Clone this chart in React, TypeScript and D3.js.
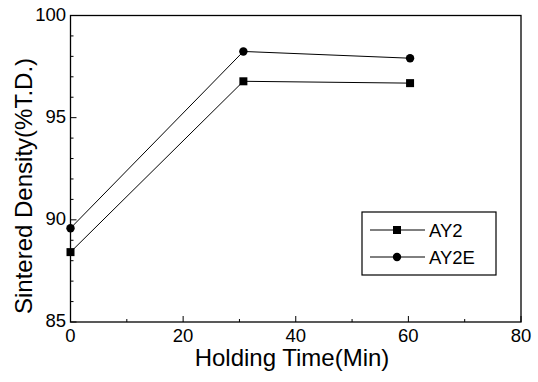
import React from "react";
import * as d3 from "d3";

const holdingTime = [0, 30.7, 60.3];
const ay2 = [88.42, 96.78, 96.69];
const ay2e = [89.59, 98.24, 97.91];
const seriesNames = ["AY2", "AY2E"];
const xMajorTicks = [0, 20, 40, 60, 80];
const yMajorTicks = [85, 90, 95, 100];

const W = 538;
const H = 382;
const L = 70.5, R = 521, T = 15.5, B = 322;
const FONT = "'Liberation Sans', Arial, sans-serif";

export default function App() {
  const x = d3.scaleLinear().domain([0, 80]).range([L, R]);
  const y = d3.scaleLinear().domain([85, 100]).range([B, T]);
  const line = d3
    .line<[number, number]>()
    .x((d) => x(d[0]))
    .y((d) => y(d[1]));
  const d1: [number, number][] = holdingTime.map((t, i) => [t, ay2[i]]);
  const d2: [number, number][] = holdingTime.map((t, i) => [t, ay2e[i]]);
  const xMinor = d3.range(0, 81, 10);
  const yMinor = d3.range(85, 100.01, 1);

  const legX = 362, legY = 212, legW = 134, legH = 63;
  const rowY = [230, 257];

  return (
    <svg
      width={W}
      height={H}
      style={{ position: "absolute", left: 0, top: 0, background: "#fff" }}
      fontFamily={FONT}
    >
      <rect x={0} y={0} width={W} height={H} fill="#fff" />
      {/* frame */}
      <rect x={L} y={T} width={R - L} height={B - T} fill="none" stroke="#000" strokeWidth={1.3} />
      {/* x ticks */}
      {xMinor.map((v) => (
        <line
          key={"xm" + v}
          x1={x(v)}
          x2={x(v)}
          y1={B}
          y2={B - (v % 20 === 0 ? 6 : 3)}
          stroke="#000"
          strokeWidth={1}
        />
      ))}
      {yMinor.map((v) => (
        <line
          key={"ym" + v}
          x1={L}
          x2={L + (Math.round(v) % 5 === 0 ? 6 : 3)}
          y1={y(v)}
          y2={y(v)}
          stroke="#000"
          strokeWidth={1}
        />
      ))}
      {xMajorTicks.map((v) => (
        <text key={"xt" + v} x={x(v)} y={342} textAnchor="middle" fontSize={18.5} fill="#000">
          {v}
        </text>
      ))}
      {yMajorTicks.map((v) => (
        <text key={"yt" + v} x={66} y={y(v) + 5} textAnchor="end" fontSize={18.5} fill="#000">
          {v}
        </text>
      ))}
      <text x={292} y={366} textAnchor="middle" fontSize={24} fill="#000">
        Holding Time(Min)
      </text>
      <text
        transform={`translate(32,186) rotate(-90)`}
        textAnchor="middle"
        fontSize={24}
        fill="#000"
      >
        Sintered Density(%T.D.)
      </text>
      {/* series */}
      <path d={line(d1) || ""} fill="none" stroke="#000" strokeWidth={1} />
      <path d={line(d2) || ""} fill="none" stroke="#000" strokeWidth={1} />
      {d1.map((p, i) => (
        <rect key={"s" + i} x={x(p[0]) - 4} y={y(p[1]) - 4} width={8} height={8} fill="#000" />
      ))}
      {d2.map((p, i) => (
        <circle key={"c" + i} cx={x(p[0])} cy={y(p[1])} r={4.2} fill="#000" />
      ))}
      {/* legend */}
      <rect x={legX} y={legY} width={legW} height={legH} fill="#fff" stroke="#000" strokeWidth={1.2} />
      {seriesNames.map((name, i) => (
        <g key={name}>
          <line x1={370} x2={425} y1={rowY[i]} y2={rowY[i]} stroke="#000" strokeWidth={1} />
          {i === 0 ? (
            <rect x={393} y={rowY[i] - 4} width={8} height={8} fill="#000" />
          ) : (
            <circle cx={397} cy={rowY[i]} r={4.2} fill="#000" />
          )}
          <text x={429} y={rowY[i] + 6.5} fontSize={18.5} fill="#000">
            {name}
          </text>
        </g>
      ))}
    </svg>
  );
}
